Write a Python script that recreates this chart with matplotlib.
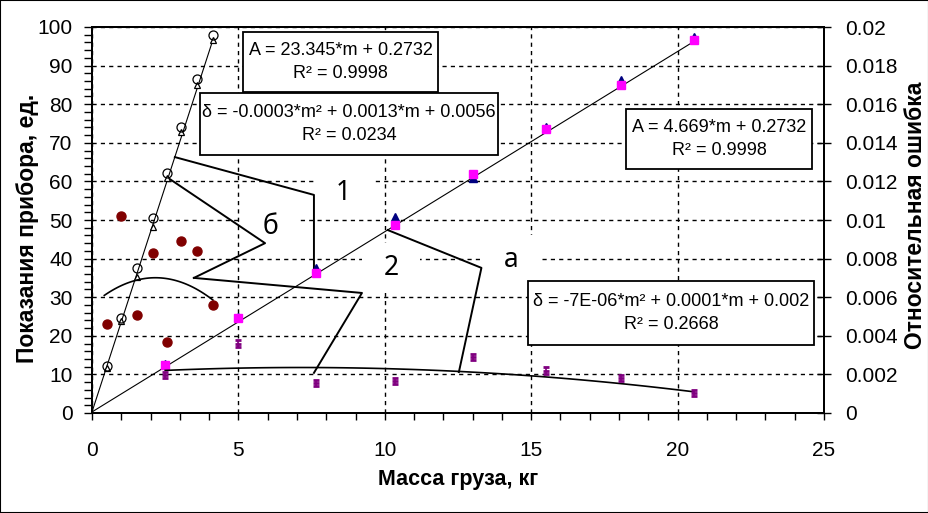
import numpy as np
import matplotlib.pyplot as plt
from matplotlib.patches import Rectangle
from matplotlib.ticker import MultipleLocator, FuncFormatter

plt.rcParams['font.family'] = ['Liberation Sans', 'DejaVu Sans']

# масса груза, кг: серия б (малые массы) и серия а
m_b = [0.5, 1.0, 1.53, 2.07, 2.57, 3.05, 3.57, 4.13]
m_a = [2.5, 5.0, 7.65, 10.35, 13.0, 15.5, 18.05, 20.55]

# показания прибора, ед. (прямой и обратный ход)
A_b_up = [12.3, 24.5, 37.5, 50.4, 62.1, 74.0, 86.4, 97.9]
A_b_dn = [11.6, 23.8, 35.3, 48.3, 60.8, 72.8, 85.0, 96.6]
A_a_up = [12.8, 24.9, 37.5, 50.7, 61.0, 74.0, 86.3, 97.5]
A_a_dn = [12.4, 24.6, 36.2, 48.7, 62.0, 73.5, 85.0, 96.6]

# относительная ошибка
d_b = [0.0046, 0.0102, 0.0051, 0.0083, 0.0037, 0.0089, 0.0084, 0.0056]
d_a = [0.00197, 0.0036, 0.00154, 0.00166, 0.0029, 0.0022, 0.0018, 0.00102]
d_a_err = 0.00016

# линии тренда
lin_b = [23.345, 0.2732]
lin_a = [4.669, 0.2732]
quad_b = [-0.0003, 0.0013, 0.0056]
quad_a = [-7e-06, 0.0001, 0.002]

eq_lin_b = 'A = 23.345*m + 0.2732\nR² = 0.9998'
eq_quad_b = 'δ = -0.0003*m² + 0.0013*m + 0.0056\nR² = 0.0234'
eq_lin_a = 'A = 4.669*m + 0.2732\nR² = 0.9998'
eq_quad_a = 'δ = -7E-06*m² + 0.0001*m + 0.002\nR² = 0.2668'

fig = plt.figure(figsize=(9.29, 5.13), dpi=100)
ax = fig.add_axes([92/929, 1-413/513, 732/929, 386/513])
ax2 = ax.twinx()

ax.set_xlim(0, 25)
ax.set_ylim(0, 100)
ax2.set_ylim(0, 0.02)

# показания
mm = np.linspace(0, max(m_b), 50)
ax.plot(mm, np.polyval(lin_b, mm), color='black', lw=0.8, zorder=2)
mm = np.linspace(0, max(m_a), 50)
ax.plot(mm, np.polyval(lin_a, mm), color='black', lw=0.8, zorder=2)

ax.plot(m_b, A_b_dn, ls='none', marker='^', ms=4.5, mfc='white', mec='black', mew=0.9, zorder=4)
ax.plot(m_b, A_b_up, ls='none', marker='o', ms=6.5, mfc='none', mec='black', mew=0.9, zorder=4)
ax.plot(m_a, A_a_up, ls='none', marker='^', ms=6, color='#000080', zorder=4)
ax.plot(m_a, A_a_dn, ls='none', marker='s', ms=6, color='#FF00FF', zorder=4)

# ошибки
mm = np.linspace(min(m_b) - 0.08, max(m_b), 60)
ax2.plot(mm, np.polyval(quad_b, mm), color='black', lw=1.2)
mm = np.linspace(min(m_a), max(m_a), 60)
ax2.plot(mm, np.polyval(quad_a, mm), color='black', lw=1.2)
ax2.plot(m_b, d_b, ls='none', marker='o', ms=6.5, color='#800000')
ax2.errorbar(m_a, d_a, yerr=d_a_err, fmt='_', ms=4, mew=2, color='#800080',
             ecolor='#800080', elinewidth=1.2, capsize=2.5, capthick=1.5)

# оси
ax.xaxis.set_major_locator(MultipleLocator(5))
ax.xaxis.set_minor_locator(MultipleLocator(1))
ax.yaxis.set_major_locator(MultipleLocator(10))
ax.yaxis.set_minor_locator(MultipleLocator(2))
ax2.yaxis.set_major_locator(MultipleLocator(0.002))
ax2.yaxis.set_major_formatter(FuncFormatter(lambda v, p: '{:g}'.format(round(v, 4))))

ax.tick_params(axis='x', which='both', direction='out', length=5, width=1, pad=15, labelsize=15)
ax.tick_params(axis='y', which='both', direction='out', length=6, width=1, pad=8, labelsize=15)
ax2.tick_params(axis='y', which='major', direction='inout', length=10, width=1, pad=10, labelsize=15)
for a in (ax, ax2):
    for s in a.spines.values():
        s.set_linewidth(1.4)

ax.grid(True, which='major', color='black', lw=1, ls=(0, (3, 3)))

# выноски
boxes = {'1': (7.58, 9.56, 51.0, 63.0), '2': (9.22, 11.2, 31.1, 44.0),
         'а': (13.3, 15.3, 33.2, 46.1), 'б': (5.07, 7.1, 41.2, 55.2)}
for lab, (x0, x1, y0, y1) in boxes.items():
    ax.add_patch(Rectangle((x0, y0), x1 - x0, y1 - y0, fc='white', ec='none', zorder=1.8))
    ax.text((x0 + x1) / 2, (y0 + y1) / 2, lab, ha='center', va='center',
            fontsize=19, family='Noto Sans', zorder=5)

leaders = [
    ([2.83, 7.58, 7.58], [66.3, 56.5, 36.5]),
    ([2.6, 5.91, 3.48], [60.9, 44.0, 35.0]),
    ([3.48, 9.22, 7.58], [35.0, 31.1, 10.4]),
    ([10.1, 13.3, 12.53], [47.4, 37.6, 10.6]),
]
for xs, ys in leaders:
    ax.plot(xs, ys, color='black', lw=1.4, zorder=3)

# уравнения трендов
eq_boxes = [(5.16, 11.82, 83.2, 98.7, eq_lin_b), (3.69, 13.87, 66.8, 82.9, eq_quad_b),
            (18.24, 24.59, 63.2, 78.8, eq_lin_a), (14.89, 24.66, 17.6, 34.2, eq_quad_a)]
for x0, x1, y0, y1, txt in eq_boxes:
    ax2.add_patch(Rectangle((x0, y0), x1 - x0, y1 - y0, fc='white', ec='black', lw=1.3,
                            transform=ax.transData, zorder=6))
    ax2.text((x0 + x1) / 2, (y0 + y1) / 2, txt, ha='center', va='center', fontsize=13,
             linespacing=1.4, transform=ax.transData, zorder=7)

fig.text(458/929, 1-479/513, 'Масса груза, кг', ha='center', va='center',
         fontsize=15.5, fontweight='bold')
fig.text(28/929, 1-228/513, 'Показания прибора, ед.', ha='center', va='center',
         rotation=90, fontsize=16.5, fontweight='bold')
fig.text(916/929, 1-215/513, 'Относительная ошибка', ha='center', va='center',
         rotation=90, fontsize=16.5, fontweight='bold')

fig.add_artist(Rectangle((0, 0), 1, 1, transform=fig.transFigure, fill=False,
                         ec='black', lw=1.5))

plt.savefig('out.png', dpi=100)
